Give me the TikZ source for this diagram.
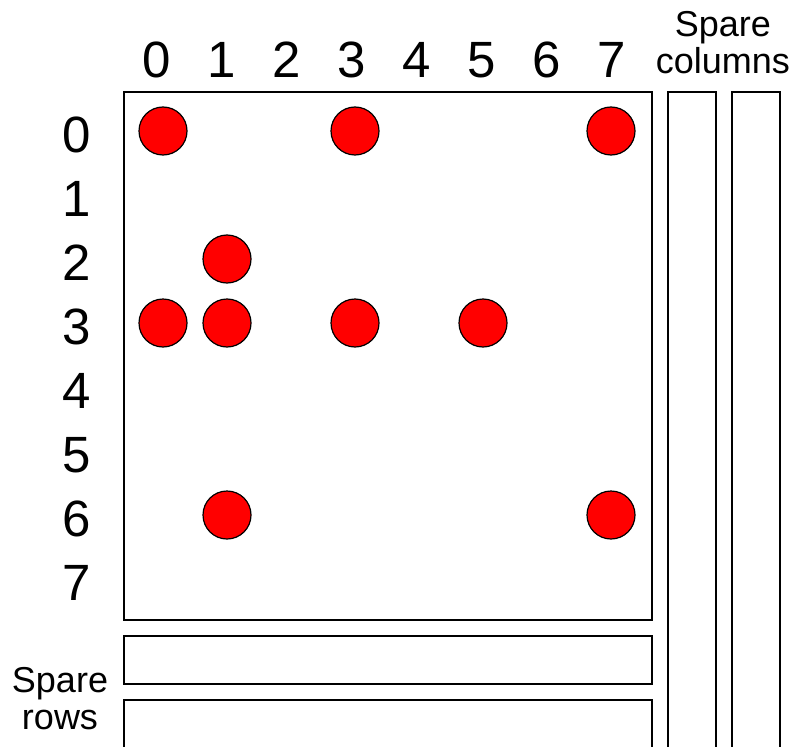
\documentclass[tikz,border=0pt]{standalone}
\usepackage{fontspec}
\setmainfont{Liberation Sans}
\usetikzlibrary{positioning, calc}
\tikzset{
    cell/.style={circle, draw, fill=red, line width=1.2pt, minimum size=48pt, inner sep=0pt},
    idx/.style={font=\fontsize{51}{51}\selectfont, inner sep=0pt},
    spare/.style={rectangle, draw, line width=1.6pt, inner sep=0pt},
    caption/.style={font=\fontsize{36}{37}\selectfont, align=center, inner sep=0pt}
}

\begin{document}
\begin{tikzpicture}[x=1pt, y=-1pt]
    \useasboundingbox (0,0) rectangle (791,746);

    % memory array and its spares
    \node (array) [spare, minimum width=528pt, minimum height=528pt, anchor=north west] at (123,91) {};
    \node (srow1) [spare, minimum width=528pt, minimum height=48pt, below=14.4pt of array] {};
    \node (srow2) [spare, minimum width=528pt, minimum height=90pt, below=14.4pt of srow1, anchor=north] {};
    \node (scol1) [spare, minimum width=48pt, minimum height=690pt, right=14.4pt of array.north east, anchor=north west] {};
    \node (scol2) [spare, minimum width=48pt, minimum height=690pt, right=14.4pt of scol1.north east, anchor=north west] {};

    % indices
    \foreach \c in {0,...,7}
        \node (col\c) [idx] at ($(array.north west)+(34+65*\c,-31)$) {\c};
    \foreach \r in {0,...,7}
        \node (row\r) [idx] at ($(array.north west)+(-46,44+64*\r)$) {\r};

    % faulty cells
    \foreach \r/\c in {0/0,0/3,0/7,2/1,3/0,3/1,3/3,3/5,6/1,6/7}
        \node (f\r\c) [cell] at ($(array.north west)+(40+64*\c,40+64*\r)$) {};

    \node (capcol) [caption] at ($(scol1.north east)!0.5!(scol2.north west)+(-1,-48)$) {Spare\\columns};
    \node (caprow) [caption] at ($(srow1.south west)+(-63,14)$) {Spare\\rows};
\end{tikzpicture}
\end{document}
